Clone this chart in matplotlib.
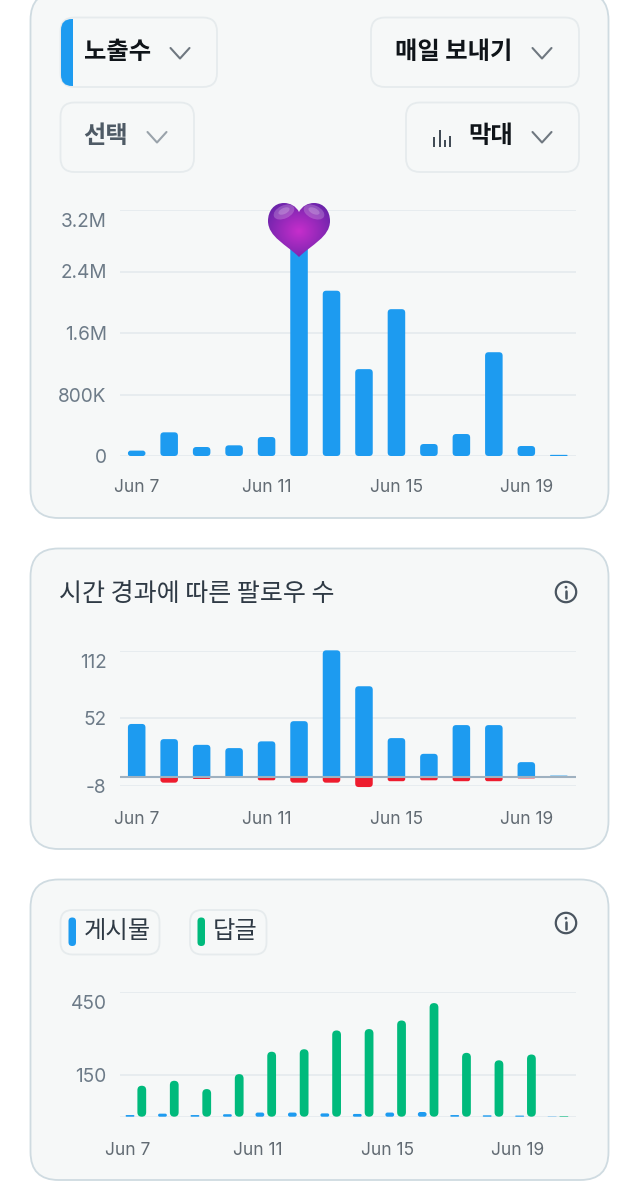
# -*- coding: utf-8 -*-
import numpy as np
import matplotlib
matplotlib.use("Agg")
import matplotlib.pyplot as plt
from matplotlib.patches import FancyBboxPatch, PathPatch, Circle, Ellipse
from matplotlib.path import Path
from matplotlib.transforms import ScaledTranslation

plt.rcParams['font.family'] = ['Inter', 'Noto Sans CJK KR', 'DejaVu Sans']

W, H = 637, 1200

# data
day_labels = ["Jun 7", "Jun 11", "Jun 15", "Jun 19"]
day_index = [0, 4, 8, 12]
days = np.arange(14)

impressions = [70e3, 308e3, 117e3, 139e3, 247e3, 2.8e6, 2.15e6, 1.13e6, 1.91e6, 156e3, 286e3, 1.35e6, 130e3, 15e3]
imp_ticks = [0, 800e3, 1.6e6, 2.4e6, 3.2e6]
imp_labels = ["0", "800K", "1.6M", "2.4M", "3.2M"]

follows = [47, 33.5, 28.4, 25.5, 31.5, 49.5, 112.6, 80.6, 34.4, 20.4, 46, 46, 13, 1]
unfollows = [0, -5.3, -2, 0, -3.2, -5.3, -5.3, -9.2, -4, -3.2, -4, -4, -1.5, 0]
fol_ticks = [-8, 52, 112]
fol_labels = ["-8", "52", "112"]

posts = [6, 11, 6, 9, 15, 15, 12, 10, 15, 17, 6, 5, 4, 1]
replies = [112, 130, 100, 154, 235, 244, 312, 317, 348, 411, 231, 204, 225, 2]
act_ticks = [0, 150, 450]
act_labels = ["", "150", "450"]

BLUE = "#1d9bf0"
GREEN = "#00ba7c"
RED = "#ee1c2e"
CARD = "#f6f8f8"
CARD_EDGE = "#cfdbe1"
CHIP_EDGE = "#e6ebed"
GRID = "#e3e9ed"
YTXT = "#6d7b88"
XTXT = "#626b73"
KR = ['Noto Sans CJK KR', 'DejaVu Sans']

fig = plt.figure(figsize=(W / 100, H / 100), dpi=100, facecolor="white")

bg = fig.add_axes([0, 0, 1, 1], zorder=0)
bg.set_xlim(0, W)
bg.set_ylim(H, 0)
bg.axis("off")


def round_box(ax, x0, y0, x1, y1, r, face, edge=None, lw=1.3):
    p = FancyBboxPatch((x0, y0), x1 - x0, y1 - y0, boxstyle="round,pad=0,rounding_size=%g" % r,
                       facecolor=face, edgecolor=edge if edge else "none", linewidth=lw)
    ax.add_patch(p)
    return p


def chevron(x, y, color="#6f7880"):
    bg.plot([x - 9.5, x, x + 9.5], [y - 5, y + 5.5, y - 5], color=color, lw=1.5, solid_capstyle="round")


def info_icon(x, y):
    c = "#4a5560"
    bg.add_patch(Circle((x, y), 10.2, facecolor="none", edgecolor=c, lw=1.6))
    bg.plot([x, x], [y - 1, y + 5.5], color=c, lw=1.8, solid_capstyle="round")
    bg.add_patch(Circle((x, y - 4.8), 1.4, facecolor=c, edgecolor="none"))


# cards
round_box(bg, 30.5, -8, 608.5, 518, 28, CARD, CARD_EDGE)
round_box(bg, 30.5, 548.5, 608.5, 849, 28, CARD, CARD_EDGE)
round_box(bg, 30.5, 879.5, 608.5, 1180, 28, CARD, CARD_EDGE)

# dropdowns
round_box(bg, 60.5, 17.5, 217, 87, 14, CARD, CHIP_EDGE)
round_box(bg, 371, 17.5, 579, 87, 14, CARD, CHIP_EDGE)
round_box(bg, 60.5, 102.5, 194, 172, 14, CARD, CHIP_EDGE)
round_box(bg, 406, 102.5, 579, 172, 14, CARD, CHIP_EDGE)

strip = round_box(bg, 61, 19, 85, 86, 11, BLUE)
clip = plt.Rectangle((61, 19), 12, 67, transform=bg.transData)
strip.set_clip_path(clip)

bg.text(117.5, 52, "노출수", family=KR, fontsize=17.5, fontweight="bold", color="#0f1419", ha="center", va="center")
bg.text(453.5, 52, "매일 보내기", family=KR, fontsize=17.5, fontweight="bold", color="#0f1419", ha="center", va="center")
bg.text(105.5, 136, "선택", family=KR, fontsize=17.5, fontweight="bold", color="#4f5b66", ha="center", va="center")
bg.text(490.5, 136, "막대", family=KR, fontsize=17.5, fontweight="bold", color="#0f1419", ha="center", va="center")
chevron(180, 53)
chevron(542, 53)
chevron(157, 137, "#9aa3ab")
chevron(542, 137)

# little bar icon of the chart type button
bg.vlines([434, 439.5, 445, 449.5], [137, 130, 140, 136], [147, 147, 147, 147], color="#2f3a45", lw=1.3)

# second and third card headers
bg.text(197, 594, "시간 경과에 따른 팔로우 수", family=KR, fontsize=18, fontweight="medium", color="#2f3a45", ha="center", va="center")
info_icon(566, 592)
info_icon(566, 923)

round_box(bg, 60.5, 910, 159.5, 954.5, 12, CARD, CHIP_EDGE)
round_box(bg, 190, 910, 266.5, 954.5, 12, CARD, CHIP_EDGE)
round_box(bg, 68.5, 917.5, 76, 946, 3.7, BLUE)
round_box(bg, 197.5, 917.5, 205, 946, 3.7, GREEN)
bg.text(117, 931, "게시물", family=KR, fontsize=17.5, fontweight="medium", color="#2f3a45", ha="center", va="center")
bg.text(235.5, 931, "답글", family=KR, fontsize=17.5, fontweight="medium", color="#2f3a45", ha="center", va="center")


def make_axes(top, bottom, ylim, yticks, ylabels, xpad):
    # axes placed by pixel rows, x range is the same for all three
    ax = fig.add_axes([120 / W, 1 - bottom / H, (576 - 120) / W, (bottom - top) / H], zorder=1)
    ax.patch.set_alpha(0)
    ax.set_xlim(-0.514, 13.53)
    ax.set_ylim(*ylim)
    for s in ax.spines.values():
        s.set_visible(False)
    ax.set_yticks(yticks)
    ax.set_yticklabels(ylabels, color=YTXT, fontsize=13.7)
    ax.tick_params(axis="y", length=0, pad=9.6)
    ax.tick_params(axis="x", length=0, pad=xpad)
    ax.grid(axis="y", color=GRID, lw=1.1)
    ax.set_axisbelow(True)
    # top label hangs below its gridline
    lab = ax.get_yticklabels()[-1]
    lab.set_verticalalignment("top")
    lab.set_transform(lab.get_transform() + ScaledTranslation(0, -3 / 100, fig.dpi_scale_trans))
    return ax


def radii(ax, v, w, rpx):
    sx = ax.bbox.width / (ax.get_xlim()[1] - ax.get_xlim()[0])
    sy = ax.bbox.height / (ax.get_ylim()[1] - ax.get_ylim()[0])
    r = min(rpx, abs(v) * sy / 2, w * sx / 2)
    return r / sx, r / sy


def rbar(ax, x, v, w, rpx, color):
    # bar from zero with all four corners rounded, radius given in pixels
    if v == 0:
        return
    rx, ry = radii(ax, v, w, rpx)
    p = FancyBboxPatch((x - w / 2, min(0, v)), w, abs(v),
                       boxstyle="round,pad=0,rounding_size=%g" % rx, mutation_aspect=ry / rx,
                       facecolor=color, edgecolor="none", clip_on=False, zorder=3)
    ax.add_patch(p)


def tip_bar(ax, x, v, w, rpx, color):
    # bar from zero rounded only at its far end, for the follower chart
    if v == 0:
        return
    rx, ry = radii(ax, v, w, rpx)
    ry = ry if v > 0 else -ry
    x0, x1 = x - w / 2, x + w / 2
    verts = [(x0, 0), (x0, v - ry), (x0, v), (x0 + rx, v), (x1 - rx, v), (x1, v), (x1, v - ry), (x1, 0), (x0, 0)]
    codes = [Path.MOVETO, Path.LINETO, Path.CURVE3, Path.CURVE3, Path.LINETO, Path.CURVE3, Path.CURVE3,
             Path.LINETO, Path.CLOSEPOLY]
    ax.add_patch(PathPatch(Path(verts, codes), facecolor=color, edgecolor="none", clip_on=False, zorder=3))


# impressions
ax1 = make_axes(210, 456, (0, 3.2e6), imp_ticks, imp_labels, 16.5)
for d, v in zip(days, impressions):
    rbar(ax1, d, v, 0.54, 3.5, BLUE)
ax1.set_xticks(day_index)
ax1.set_xticklabels(day_labels, color=XTXT, fontsize=12.5)

# follows over time
ax2 = make_axes(651, 785.7, (-8, 112), fol_ticks, fol_labels, 18)
for d, v, u in zip(days, follows, unfollows):
    tip_bar(ax2, d, v, 0.54, 3.5, BLUE)
    tip_bar(ax2, d, u, 0.54, 3.5, RED)
ax2.axhline(0, color="#9fb1c0", lw=1.5, zorder=4)
ax2.set_xticks(day_index)
ax2.set_xticklabels(day_labels, color=XTXT, fontsize=12.5)

# posts and replies
ax3 = make_axes(992.3, 1116.7, (0, 450), act_ticks, act_labels, 18)
for d, p_, r_ in zip(days, posts, replies):
    rbar(ax3, d - 0.206, p_, 0.27, 4, BLUE)
    rbar(ax3, d + 0.157, r_, 0.27, 4.5, GREEN)
ax3.set_xticks([i - 0.27 for i in day_index])
ax3.set_xticklabels(day_labels, color=XTXT, fontsize=12.5)

# purple heart sitting on the tallest bar
top = fig.add_axes([0, 0, 1, 1], zorder=2)
top.set_xlim(0, W)
top.set_ylim(H, 0)
top.axis("off")
hx, hy = 299, 203
verts = [(hx, hy + 9), (hx - 3, hy + 3), (hx - 9, hy), (hx - 15, hy),
         (hx - 25, hy), (hx - 31, hy + 8), (hx - 31, hy + 18),
         (hx - 31, hy + 34), (hx - 12, hy + 42), (hx, hy + 54),
         (hx + 12, hy + 42), (hx + 31, hy + 34), (hx + 31, hy + 18),
         (hx + 31, hy + 8), (hx + 25, hy), (hx + 15, hy),
         (hx + 9, hy), (hx + 3, hy + 3), (hx, hy + 9)]
codes = [Path.MOVETO] + [Path.CURVE4] * 18
heart = PathPatch(Path(verts, codes), facecolor="none", edgecolor="none")
top.add_patch(heart)
gy, gx = np.mgrid[0:1:80j, 0:1:80j]
dist = np.sqrt((gx - 0.5) ** 2 + (gy - 0.52) ** 2) / 0.62
c_in = np.array([0.78, 0.18, 0.80])
c_out = np.array([0.40, 0.14, 0.66])
grad = c_in + (c_out - c_in) * np.clip(dist, 0, 1)[..., None]
im = top.imshow(grad, extent=(hx - 32, hx + 32, hy + 55, hy - 1), aspect="auto", zorder=5)
im.set_clip_path(heart)
for ex, ey, ew, eh, ang in [(-15, 9, 22, 13, -25), (15, 9, 22, 13, 25),
                            (-15, 8, 12, 6, -25), (15, 8, 12, 6, 25)]:
    e = Ellipse((hx + ex, hy + ey), ew, eh, angle=ang, facecolor="white", alpha=0.2, edgecolor="none", zorder=6)
    top.add_patch(e)
    e.set_clip_path(heart)
top.set_xlim(0, W)
top.set_ylim(H, 0)

fig.savefig("out.png", dpi=100, facecolor="white")
